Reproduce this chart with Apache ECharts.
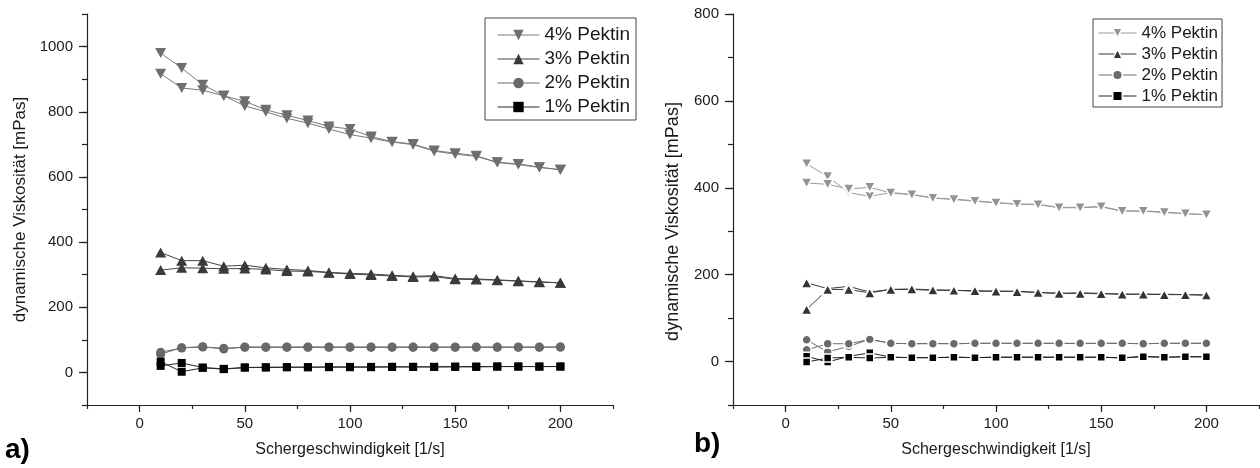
<!DOCTYPE html>
<html>
<head>
<meta charset="utf-8">
<script src="https://cdn.jsdelivr.net/npm/echarts@6/dist/echarts.min.js"></script>
<style>
  html, body { margin: 0; padding: 0; background: #fff; }
  #chart { width: 1260px; height: 468px; }
</style>
</head>
<body>
<div id="chart"></div>
<script type="text/javascript">
// Schergeschwindigkeit [1/s] - Hinmessung 10..200, Rueckmessung 200..10
var shear = [10, 20, 30, 40, 50, 60, 70, 80, 90, 100, 110, 120, 130, 140, 150, 160, 170, 180, 190, 200];
var pectinNames = ['4% Pektin', '3% Pektin', '2% Pektin', '1% Pektin'];
var xTickLabels = [0, 50, 100, 150, 200];
var yTickLabelsA = [0, 200, 400, 600, 800, 1000];
var yTickLabelsB = [0, 200, 400, 600, 800];

// a) dynamische Viskositaet [mPas]  (Up = Hinweg, Down = Rueckweg, beide in Reihenfolge von shear)
var a4Up   = [980, 934, 883, 849, 832, 806, 789, 773, 755, 747, 724, 708, 701, 681, 673, 665, 645, 640, 630, 622];
var a4Down = [917, 873, 866, 849, 818, 800, 780, 765, 747, 730, 719, 707, 699, 679, 670, 663, 644, 638, 629, 622];
var a3Up   = [368, 343, 343, 326, 329, 321, 316, 313, 307, 304, 302, 298, 295, 297, 288, 287, 284, 281, 278, 275];
var a3Down = [314, 321, 320, 318, 319, 316, 311, 310, 306, 302, 299, 296, 293, 294, 286, 285, 283, 280, 277, 275];
var a2Up   = [62, 75, 79, 72, 78, 78, 78, 78, 78, 78, 78, 78, 78, 78, 78, 78, 78, 78, 78, 78];
var a2Down = [56, 76, 78, 74, 77, 77, 77, 77, 77, 77, 77, 77, 77, 77, 77, 77, 77, 77, 77, 78];
var a1Up   = [33, 2, 14, 10, 15, 15, 16, 16, 16, 16, 16, 17, 17, 17, 17, 17, 18, 18, 18, 18];
var a1Down = [20, 29, 15, 11, 15, 16, 16, 16, 17, 17, 17, 17, 17, 17, 18, 18, 18, 18, 18, 18];

// b)
var b4Up   = [455, 426, 389, 380, 389, 385, 377, 374, 370, 366, 363, 362, 355, 355, 357, 347, 347, 344, 341, 338];
var b4Down = [411, 408, 397, 401, 388, 384, 376, 373, 369, 365, 362, 361, 354, 354, 356, 346, 346, 343, 340, 338];
var b3Up   = [181, 168, 173, 160, 166, 166, 164, 164, 162, 162, 162, 159, 157, 158, 157, 155, 155, 155, 154, 153];
var b3Down = [120, 166, 166, 158, 166, 167, 165, 164, 163, 162, 161, 159, 157, 157, 156, 155, 155, 154, 154, 153];
var b2Up   = [50, 22, 35, 51, 42, 41, 42, 41, 42, 42, 42, 42, 42, 41, 42, 42, 41, 42, 42, 42];
var b2Down = [27, 41, 41, 51, 42, 41, 41, 41, 42, 42, 42, 42, 42, 42, 42, 42, 41, 42, 42, 42];
var b1Up   = [12, -1, 12, 20, 10, 9, 9, 10, 9, 10, 10, 10, 10, 10, 10, 8, 12, 10, 11, 11];
var b1Down = [-1, 8, 10, 8, 10, 9, 9, 10, 9, 10, 10, 10, 10, 10, 10, 9, 11, 10, 11, 11];

var FONT = '"Liberation Sans", Arial, Helvetica, sans-serif';
var DOWN_TRI = 'path://M0,0L10,0L5,8.7Z';

// Hin- und Rueckweg zu einer Schleife verbinden
function loop(up, down) {
    var pts = [];
    for (var i = 0; i < shear.length; i++) pts.push([shear[i], up[i]]);
    for (var j = shear.length - 1; j >= 0; j--) pts.push([shear[j], down[j]]);
    return pts;
}

function plain(v) { return String(v); }   // kein Tausender-Komma

function xMain(g) {
    return {
        type: 'value', gridIndex: g, position: 'bottom', min: -25, max: 225, interval: 25,
        axisLine: { onZero: false, lineStyle: { color: '#222', width: 1.2 } },
        axisTick: { customValues: xTickLabels, length: 7, lineStyle: { color: '#222', width: 1.2 } },
        axisLabel: { customValues: xTickLabels, formatter: plain, margin: 11, color: '#1a1a1a', fontSize: 15, fontFamily: FONT },
        splitLine: { show: false },
        name: 'Schergeschwindigkeit [1/s]', nameLocation: 'middle', nameGap: 37,
        nameTextStyle: { color: '#1a1a1a', fontSize: 16, fontFamily: FONT }
    };
}
function xMinor(g) {
    return {
        type: 'value', gridIndex: g, position: 'bottom', min: -25, max: 225, interval: 25,
        axisLine: { show: false, onZero: false },
        axisTick: { length: 4, lineStyle: { color: '#222', width: 1.2 } },
        axisLabel: { show: false }, splitLine: { show: false }
    };
}
function yMain(g, max, labels, gap, fs, pad) {
    return {
        type: 'value', gridIndex: g, position: 'left', min: -100, max: max, interval: 100,
        axisLine: { show: true, onZero: false, lineStyle: { color: '#222', width: 1.2 } },
        axisTick: { show: true, customValues: labels, length: 8, lineStyle: { color: '#222', width: 1.2 } },
        axisLabel: { customValues: labels, formatter: plain, margin: 14, color: '#1a1a1a', fontSize: 15, fontFamily: FONT },
        splitLine: { show: false },
        name: 'dynamische Viskosität [mPas]', nameLocation: 'middle', nameRotate: 90, nameGap: gap,
        nameTextStyle: { color: '#1a1a1a', fontSize: fs, fontFamily: FONT, padding: pad }
    };
}
function yMinor(g, max) {
    return {
        type: 'value', gridIndex: g, position: 'left', min: -100, max: max, interval: 100,
        axisLine: { show: false, onZero: false },
        axisTick: { show: true, length: 5, lineStyle: { color: '#222', width: 1.2 } },
        axisLabel: { show: false }, splitLine: { show: false }
    };
}

// panel a: durchgezogen; panel b: Luecke um die Symbole (weisser Rand)
function ser(name, data, idx, symbol, size, color, lineColor, gap) {
    return {
        name: name, type: 'line', xAxisIndex: idx, yAxisIndex: idx,
        data: data, symbol: symbol, symbolSize: size, showAllSymbol: true,
        lineStyle: { color: lineColor, width: 1 },
        itemStyle: { color: color, borderColor: '#fff', borderWidth: gap, opacity: 1 },
        emphasis: { disabled: true }, z: 3
    };
}

var styleA = [['#6e6e6e', '#7a7a7a'], ['#3a3a3a', '#444'], ['#686868', '#6a6a6a'], ['#000', '#2a2a2a']];
var styleB = [['#939393', '#9a9a9a'], ['#333', '#3a3a3a'], ['#6a6a6a', '#6e6e6e'], ['#000', '#222']];

function legendData(styles, gap) {
    return pectinNames.map(function (n, i) {
        return {
            name: n,
            itemStyle: { color: styles[i][0], borderColor: '#fff', borderWidth: gap },
            lineStyle: { color: styles[i][1], width: 1 }
        };
    });
}

var myChart = echarts.init(document.getElementById('chart'));
var option = {
    animation: false,
    backgroundColor: '#fff',
    grid: [
        { left: 87, top: 14, width: 526, height: 391 },
        { left: 733, top: 14, width: 526, height: 391 }
    ],
    xAxis: [xMain(0), xMain(1), xMinor(0), xMinor(1)],
    yAxis: [
        yMain(0, 1100, yTickLabelsA, 58, 17, 0),
        yMain(1, 800, yTickLabelsB, 51, 18, [0, 24, 0, 0]),
        yMinor(0, 1100), yMinor(1, 800)
    ],
    legend: [
        {
            orient: 'vertical', left: 485, top: 18, padding: [7, 6, 3, 12],
            itemWidth: 42, itemHeight: 13, itemGap: 4,
            borderColor: '#444', borderWidth: 1, selectedMode: false,
            textStyle: { color: '#1a1a1a', fontSize: 19, lineHeight: 20, fontFamily: FONT },
            data: legendData(styleA, 0)
        },
        {
            orient: 'vertical', left: 1093, top: 19, padding: [5, 4, 2, 5],
            itemWidth: 38, itemHeight: 12, itemGap: 3,
            borderColor: '#444', borderWidth: 1, selectedMode: false,
            textStyle: { color: '#1a1a1a', fontSize: 17, lineHeight: 18, fontFamily: FONT },
            data: legendData(styleB, 1.5)
        }
    ],
    graphic: [
        { type: 'text', left: 5, top: 436, style: { text: 'a)', font: 'bold 28px ' + FONT, fill: '#000' } },
        { type: 'text', left: 694, top: 430, style: { text: 'b)', font: 'bold 28px ' + FONT, fill: '#000' } }
    ],
    series: [
        ser(pectinNames[0], loop(a4Up, a4Down), 0, DOWN_TRI, [11, 10], styleA[0][0], styleA[0][1], 0),
        ser(pectinNames[1], loop(a3Up, a3Down), 0, 'triangle', [11, 10], styleA[1][0], styleA[1][1], 0),
        ser(pectinNames[2], loop(a2Up, a2Down), 0, 'circle', 9, styleA[2][0], styleA[2][1], 0),
        ser(pectinNames[3], loop(a1Up, a1Down), 0, 'rect', 8, styleA[3][0], styleA[3][1], 0),
        ser(pectinNames[0], loop(b4Up, b4Down), 1, DOWN_TRI, [11, 10], styleB[0][0], styleB[0][1], 1.5),
        ser(pectinNames[1], loop(b3Up, b3Down), 1, 'triangle', [11, 10], styleB[1][0], styleB[1][1], 1.5),
        ser(pectinNames[2], loop(b2Up, b2Down), 1, 'circle', 9, styleB[2][0], styleB[2][1], 1.5),
        ser(pectinNames[3], loop(b1Up, b1Down), 1, 'rect', 8, styleB[3][0], styleB[3][1], 1.5)
    ]
};
myChart.setOption(option);
</script>
</body>
</html>
